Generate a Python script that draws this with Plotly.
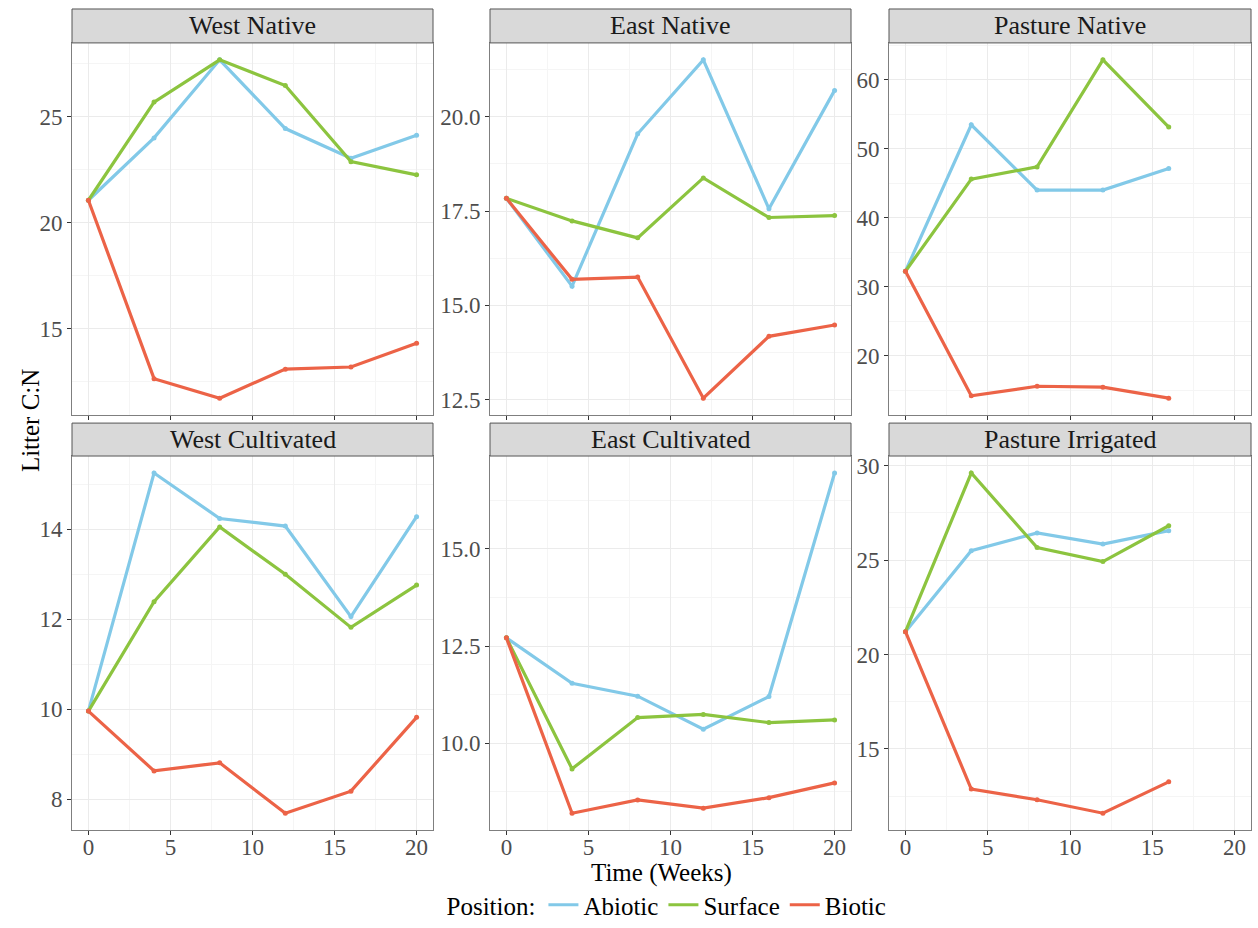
import plotly.graph_objects as go

# ---------------- data ----------------
weeks = [0, 4, 8, 12, 16, 20]
weeks_pasture = [0, 4, 8, 12, 16]

panel_titles = ["West Native", "East Native", "Pasture Native",
                "West Cultivated", "East Cultivated", "Pasture Irrigated"]
positions = ["Abiotic", "Surface", "Biotic"]

west_native_abiotic = [21.06, 24.00, 27.68, 24.44, 23.04, 24.13]
west_native_surface = [21.06, 25.69, 27.68, 26.47, 22.88, 22.26]
west_native_biotic = [21.06, 12.65, 11.73, 13.10, 13.20, 14.32]

east_native_abiotic = [17.84, 15.51, 19.55, 21.51, 17.56, 20.70]
east_native_surface = [17.84, 17.24, 16.79, 18.38, 17.33, 17.38]
east_native_biotic = [17.84, 15.69, 15.75, 12.54, 14.18, 14.48]

pasture_native_abiotic = [32.23, 53.46, 44.00, 44.00, 47.12]
pasture_native_surface = [32.23, 45.59, 47.36, 62.88, 53.13]
pasture_native_biotic = [32.23, 14.18, 15.56, 15.42, 13.83]

west_cult_abiotic = [9.96, 15.25, 14.24, 14.07, 12.06, 14.28]
west_cult_surface = [9.96, 12.39, 14.05, 13.00, 11.82, 12.76]
west_cult_biotic = [9.96, 8.63, 8.81, 7.69, 8.18, 9.82]

east_cult_abiotic = [12.71, 11.54, 11.21, 10.36, 11.20, 16.95]
east_cult_surface = [12.71, 9.34, 10.66, 10.74, 10.53, 10.60]
east_cult_biotic = [12.71, 8.20, 8.54, 8.33, 8.60, 8.98]

pasture_irr_abiotic = [21.21, 25.50, 26.44, 25.85, 26.56]
pasture_irr_surface = [21.21, 29.61, 25.67, 24.92, 26.82]
pasture_irr_biotic = [21.21, 12.88, 12.31, 11.60, 13.26]

# ---------------- styling ----------------
colors = {"Abiotic": "#82C9E8", "Surface": "#8CC43F", "Biotic": "#EC6347"}
FONT = "Liberation Serif"
W, H = 1258, 928

panels = [
    (weeks, [west_native_abiotic, west_native_surface, west_native_biotic], 5, 2.5, None),
    (weeks, [east_native_abiotic, east_native_surface, east_native_biotic], 2.5, 1.25, ".1f"),
    (weeks_pasture, [pasture_native_abiotic, pasture_native_surface, pasture_native_biotic], 10, 5, None),
    (weeks, [west_cult_abiotic, west_cult_surface, west_cult_biotic], 2, 1, None),
    (weeks, [east_cult_abiotic, east_cult_surface, east_cult_biotic], 2.5, 1.25, ".1f"),
    (weeks_pasture, [pasture_irr_abiotic, pasture_irr_surface, pasture_irr_biotic], 5, 2.5, None),
]

x_px = [(72, 433), (490, 851), (889, 1251)]
y_px = [(41, 414), (455, 830)]
strip_px = [(7, 41), (422, 455)]

fig = go.Figure()
shapes = []
annotations = []

for i, (xs, series, dtick, mdtick, fmt) in enumerate(panels):
    r, c = divmod(i, 3)
    n = "" if i == 0 else str(i + 1)
    for name, ys in zip(positions, series):
        fig.add_trace(go.Scatter(
            x=xs, y=ys, mode="lines+markers", name=name,
            line=dict(color=colors[name], width=3.2),
            marker=dict(color=colors[name], size=5),
            showlegend=False, legendgroup=name,
            xaxis="x" + n, yaxis="y" + n,
        ))
    allv = [v for s in series for v in s]
    lo, hi = min(allv), max(allv)
    pad = 0.05 * (hi - lo)
    x0, x1 = x_px[c]
    y0, y1 = y_px[r]
    grid = dict(showgrid=True, gridcolor="#EBEBEB", gridwidth=1)
    fig.layout["xaxis" + n] = dict(
        domain=[x0 / W, x1 / W], anchor="y" + n, range=[-1, 21],
        tickmode="linear", tick0=0, dtick=5,
        showticklabels=(r == 1), ticks="outside", ticklen=4, tickcolor="#333333",
        ticklabelstandoff=-8,
        tickfont=dict(family=FONT, size=23, color="#4D4D4D"),
        showline=True, mirror=True, linecolor="#7F7F7F", linewidth=1,
        zeroline=False, **grid,
        minor=dict(dtick=2.5, tick0=0, showgrid=True, gridcolor="#F5F5F5", gridwidth=1),
    )
    fig.layout["yaxis" + n] = dict(
        domain=[1 - y1 / H, 1 - y0 / H], anchor="x" + n, range=[lo - pad, hi + pad],
        tickmode="linear", tick0=0, dtick=dtick, tickformat=fmt,
        ticks="outside", ticklen=4, tickcolor="#333333",
        tickfont=dict(family=FONT, size=23, color="#4D4D4D"),
        showline=True, mirror=True, linecolor="#7F7F7F", linewidth=1,
        zeroline=False, **grid,
        minor=dict(dtick=mdtick, tick0=0, showgrid=True, gridcolor="#F5F5F5", gridwidth=1),
    )
    s0, s1 = strip_px[r]
    shapes.append(dict(type="rect", xref="paper", yref="paper",
                       x0=x0 / W, x1=x1 / W, y0=1 - s1 / H, y1=1 - s0 / H,
                       fillcolor="#D9D9D9", line=dict(color="#555555", width=1)))
    annotations.append(dict(text=panel_titles[i], xref="paper", yref="paper",
                            x=(x0 + x1) / 2 / W, y=1 - (s0 + s1) / 2 / H,
                            xanchor="center", yanchor="middle", showarrow=False,
                            font=dict(family=FONT, size=26, color="#1A1A1A")))

# legend entries (line keys only, as in the reference)
for name in positions:
    fig.add_trace(go.Scatter(x=[None], y=[None], mode="lines", name=name,
                             line=dict(color=colors[name], width=3.2),
                             showlegend=True, legendgroup=name))

annotations.append(dict(text="Time (Weeks)", xref="paper", yref="paper",
                        x=661 / W, y=1 - 873 / H, xanchor="center", yanchor="middle",
                        showarrow=False, font=dict(family=FONT, size=25, color="black")))
annotations.append(dict(text="Litter C:N", xref="paper", yref="paper",
                        x=30 / W, y=1 - 420 / H, xanchor="center", yanchor="middle",
                        textangle=-90, showarrow=False,
                        font=dict(family=FONT, size=25, color="black")))

fig.update_layout(
    width=W, height=H, margin=dict(l=0, r=0, t=0, b=0),
    paper_bgcolor="white", plot_bgcolor="white",
    shapes=shapes, annotations=annotations,
    legend=dict(orientation="h", x=668 / W, xanchor="center", y=0.0, yanchor="bottom",
                title=dict(text="Position:", font=dict(family=FONT, size=25, color="black")),
                font=dict(family=FONT, size=25, color="black"), itemwidth=30,
                bgcolor="rgba(0,0,0,0)"),
)

fig.write_html("out.html", config={"displayModeBar": False},
               post_script="document.body.style.margin='0px';")
